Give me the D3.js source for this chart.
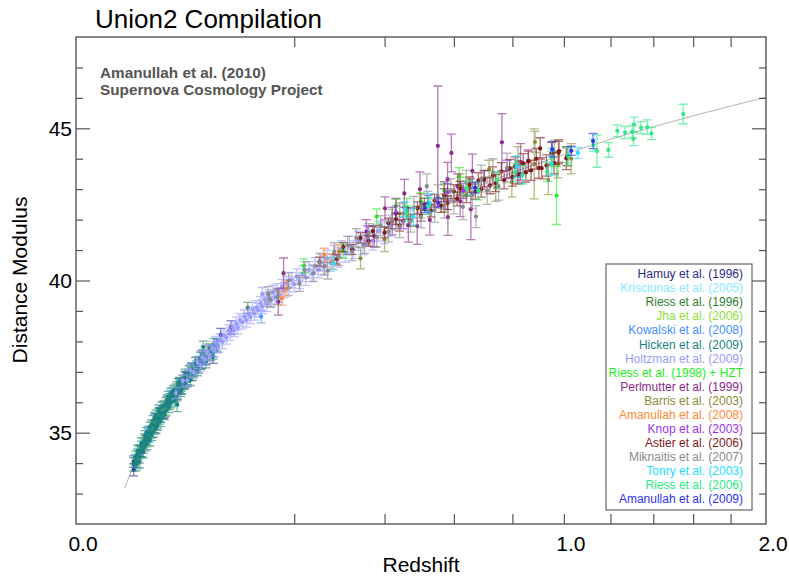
<!DOCTYPE html>
<html>
<head>
<meta charset="utf-8">
<script src="https://cdn.jsdelivr.net/npm/d3@7"></script>
<style>
  html, body { margin: 0; padding: 0; background: #fff; }
  svg { display: block; font-family: "Liberation Sans", Arial, sans-serif; }
</style>
</head>
<body>
<svg id="chart" width="789" height="577"></svg>
<script>
// Union2 Hubble diagram: distance modulus vs redshift, one array per sample: [z, mu, sigma_mu]
const hamuy1996 = [
  [0.014, 33.78, 0.20], [0.014, 34.05, 0.19], [0.018, 34.38, 0.18], [0.020, 34.79, 0.17],
  [0.026, 35.18, 0.18], [0.026, 35.42, 0.19], [0.030, 35.66, 0.17], [0.033, 35.71, 0.20],
  [0.035, 36.02, 0.18], [0.043, 36.28, 0.20], [0.045, 36.61, 0.17], [0.046, 36.48, 0.21],
  [0.050, 36.83, 0.18], [0.050, 36.66, 0.19], [0.052, 36.77, 0.20], [0.056, 37.05, 0.21],
  [0.063, 37.18, 0.22], [0.066, 37.49, 0.20], [0.071, 37.45, 0.21], [0.075, 37.72, 0.20],
  [0.079, 37.50, 0.22], [0.088, 38.22, 0.21], [0.101, 38.46, 0.22]
];
const krisciunas2005 = [
  [0.016, 34.30, 0.18], [0.022, 34.85, 0.17], [0.027, 35.30, 0.16], [0.031, 35.72, 0.16],
  [0.037, 36.10, 0.18], [0.040, 36.15, 0.17]
];
const riess1996 = [
  [0.017, 34.41, 0.20], [0.024, 35.02, 0.19], [0.029, 35.61, 0.18], [0.032, 35.66, 0.21],
  [0.043, 36.48, 0.20], [0.049, 36.62, 0.19], [0.056, 36.92, 0.22], [0.062, 37.28, 0.21],
  [0.066, 37.30, 0.20], [0.075, 37.59, 0.23], [0.124, 39.10, 0.18]
];
const jha2006 = [
  [0.016, 34.17, 0.20], [0.019, 34.66, 0.19], [0.021, 34.72, 0.20], [0.024, 35.18, 0.18],
  [0.027, 35.27, 0.19], [0.028, 35.55, 0.17], [0.033, 35.78, 0.19], [0.036, 35.93, 0.18],
  [0.041, 36.33, 0.20], [0.047, 36.58, 0.21], [0.054, 36.99, 0.19], [0.058, 37.01, 0.22],
  [0.069, 37.62, 0.20], [0.077, 37.72, 0.21]
];
const kowalski2008 = [
  [0.022, 34.95, 0.18], [0.030, 35.53, 0.17], [0.038, 36.20, 0.19], [0.046, 36.55, 0.18],
  [0.057, 37.10, 0.20], [0.068, 37.42, 0.19], [0.079, 37.69, 0.20], [0.083, 37.88, 0.20],
  [0.144, 38.81, 0.20]
];
const hicken2009 = [
  [0.014, 33.96, 0.22], [0.015, 33.95, 0.20], [0.015, 34.22, 0.18], [0.015, 34.10, 0.19],
  [0.016, 34.01, 0.19], [0.016, 34.29, 0.17], [0.016, 34.40, 0.18], [0.017, 34.36, 0.18],
  [0.017, 34.20, 0.20], [0.017, 34.05, 0.20], [0.018, 34.65, 0.17], [0.018, 34.39, 0.18],
  [0.018, 34.55, 0.17], [0.019, 34.68, 0.16], [0.019, 34.36, 0.19], [0.019, 34.50, 0.18],
  [0.020, 34.74, 0.17], [0.020, 34.58, 0.18], [0.020, 34.90, 0.17], [0.021, 35.01, 0.16],
  [0.021, 34.75, 0.17], [0.021, 34.62, 0.18], [0.022, 35.03, 0.18], [0.022, 34.73, 0.16],
  [0.022, 34.85, 0.17], [0.023, 35.04, 0.17], [0.023, 34.76, 0.19], [0.023, 35.18, 0.17],
  [0.024, 35.26, 0.16], [0.024, 35.01, 0.17], [0.024, 34.92, 0.18], [0.025, 35.26, 0.16],
  [0.025, 35.03, 0.18], [0.025, 35.40, 0.16], [0.026, 35.50, 0.17], [0.026, 35.24, 0.16],
  [0.026, 35.12, 0.17], [0.027, 35.46, 0.17], [0.027, 35.16, 0.18], [0.027, 35.58, 0.16],
  [0.028, 35.49, 0.16], [0.028, 35.32, 0.17], [0.028, 35.25, 0.17], [0.029, 35.66, 0.16],
  [0.029, 35.45, 0.18], [0.029, 35.75, 0.16], [0.030, 35.62, 0.16], [0.030, 35.37, 0.17],
  [0.030, 35.50, 0.17], [0.031, 35.84, 0.16], [0.032, 35.64, 0.17], [0.032, 35.88, 0.16],
  [0.033, 35.89, 0.16], [0.033, 35.60, 0.17], [0.034, 35.72, 0.17], [0.034, 35.99, 0.16],
  [0.035, 35.91, 0.16], [0.035, 36.08, 0.16], [0.036, 36.19, 0.17], [0.036, 35.82, 0.16],
  [0.037, 36.12, 0.16], [0.037, 35.95, 0.17], [0.038, 36.01, 0.17], [0.038, 36.30, 0.16],
  [0.039, 36.31, 0.16], [0.040, 36.19, 0.17], [0.040, 36.38, 0.17], [0.041, 36.05, 0.18],
  [0.042, 36.44, 0.16], [0.042, 36.20, 0.17], [0.043, 36.27, 0.17], [0.043, 35.93, 0.24],
  [0.044, 36.60, 0.17], [0.045, 36.48, 0.16], [0.045, 36.65, 0.17], [0.046, 36.36, 0.17],
  [0.047, 36.45, 0.17], [0.048, 36.72, 0.16], [0.049, 36.60, 0.17], [0.050, 36.92, 0.17],
  [0.051, 36.82, 0.17], [0.052, 36.69, 0.18], [0.053, 36.91, 0.17], [0.054, 37.02, 0.18],
  [0.055, 36.73, 0.18], [0.056, 37.11, 0.17], [0.057, 36.90, 0.18], [0.058, 37.02, 0.18],
  [0.060, 37.29, 0.18], [0.061, 37.18, 0.18], [0.062, 37.06, 0.19], [0.064, 37.33, 0.18],
  [0.065, 37.45, 0.19], [0.066, 37.28, 0.19], [0.068, 37.56, 0.18], [0.068, 37.82, 0.19],
  [0.071, 37.33, 0.20], [0.074, 37.68, 0.19], [0.077, 37.59, 0.20], [0.079, 37.62, 0.20],
  [0.080, 37.90, 0.20], [0.084, 37.86, 0.21]
];
const holtzman2009 = [
  [0.042, 36.30, 0.18], [0.048, 36.70, 0.20], [0.052, 36.72, 0.18], [0.055, 37.05, 0.20],
  [0.058, 36.98, 0.19], [0.062, 37.30, 0.20], [0.065, 37.20, 0.18], [0.067, 37.48, 0.20],
  [0.070, 37.41, 0.19], [0.072, 37.66, 0.21], [0.075, 37.55, 0.19], [0.078, 37.80, 0.20],
  [0.080, 37.70, 0.20], [0.082, 37.95, 0.21], [0.085, 37.82, 0.20], [0.087, 38.06, 0.19],
  [0.090, 37.98, 0.22], [0.092, 38.20, 0.20], [0.095, 38.12, 0.21], [0.098, 38.35, 0.20],
  [0.100, 38.25, 0.22], [0.103, 38.47, 0.21], [0.105, 38.36, 0.20], [0.108, 38.58, 0.22],
  [0.110, 38.45, 0.21], [0.113, 38.70, 0.21], [0.116, 38.62, 0.22], [0.119, 38.82, 0.21],
  [0.122, 38.70, 0.23], [0.125, 38.90, 0.22], [0.128, 38.80, 0.22], [0.131, 39.05, 0.23],
  [0.134, 38.92, 0.22], [0.137, 39.12, 0.22], [0.140, 39.02, 0.23], [0.143, 39.25, 0.22],
  [0.146, 39.14, 0.23], [0.146, 39.55, 0.22], [0.150, 39.38, 0.22], [0.153, 39.22, 0.24],
  [0.156, 39.46, 0.23], [0.160, 39.36, 0.23], [0.163, 39.60, 0.24], [0.166, 39.45, 0.23],
  [0.170, 39.66, 0.24], [0.174, 39.52, 0.24], [0.178, 39.80, 0.24], [0.182, 39.68, 0.25],
  [0.186, 39.90, 0.24], [0.190, 39.76, 0.25], [0.195, 40.02, 0.25], [0.200, 39.88, 0.25],
  [0.205, 40.12, 0.26], [0.210, 39.98, 0.25], [0.216, 40.22, 0.26], [0.222, 40.10, 0.26],
  [0.228, 40.35, 0.27], [0.234, 40.22, 0.26], [0.240, 40.48, 0.27], [0.246, 40.36, 0.27],
  [0.252, 40.58, 0.28], [0.258, 40.44, 0.27], [0.265, 40.72, 0.28], [0.272, 40.58, 0.28],
  [0.280, 40.86, 0.29], [0.288, 40.72, 0.28], [0.296, 41.02, 0.29], [0.305, 40.90, 0.30],
  [0.314, 41.15, 0.30], [0.324, 41.02, 0.30], [0.335, 41.30, 0.31], [0.346, 41.16, 0.31],
  [0.358, 41.45, 0.32], [0.370, 41.32, 0.32], [0.385, 41.62, 0.33], [0.400, 41.55, 0.34],
  [0.415, 41.80, 0.35]
];
const riess1998hzt = [
  [0.218, 40.49, 0.22], [0.300, 40.97, 0.23], [0.380, 42.10, 0.25], [0.430, 42.45, 0.22],
  [0.460, 42.40, 0.30], [0.500, 42.60, 0.28], [0.570, 42.95, 0.25], [0.617, 43.41, 0.30],
  [0.620, 43.14, 0.25], [0.650, 43.05, 0.28], [0.970, 42.79, 0.95]
];
const perlmutter1999 = [
  [0.172, 39.30, 0.44], [0.181, 40.24, 0.50], [0.354, 41.60, 0.40], [0.374, 41.45, 0.35],
  [0.401, 42.37, 0.38], [0.420, 41.95, 0.45], [0.430, 42.20, 0.50], [0.453, 42.86, 0.46],
  [0.464, 41.82, 0.56], [0.489, 41.79, 0.60], [0.497, 43.00, 0.57], [0.526, 41.99, 0.50],
  [0.550, 44.42, 1.97], [0.570, 42.80, 0.45], [0.580, 43.33, 0.55], [0.581, 42.08, 0.60],
  [0.592, 44.19, 0.62], [0.612, 43.10, 0.40], [0.620, 42.60, 0.50], [0.655, 42.34, 1.00],
  [0.660, 43.60, 0.55], [0.762, 44.54, 0.94], [0.830, 43.90, 0.60]
];
const barris2003 = [
  [0.340, 40.73, 0.35], [0.400, 41.35, 0.40], [0.440, 42.20, 0.35], [0.500, 42.45, 0.40],
  [0.570, 42.70, 0.45], [0.620, 43.10, 0.40], [0.717, 43.65, 0.30], [0.740, 43.05, 0.45],
  [0.798, 43.24, 0.50], [0.820, 43.90, 0.50], [0.882, 43.83, 1.15], [0.885, 44.55, 0.35],
  [0.937, 43.30, 0.48], [0.960, 44.20, 0.40], [0.976, 43.82, 0.45], [1.030, 44.00, 0.50]
];
const amanullah2008 = [
  [0.178, 39.41, 0.22], [0.187, 39.74, 0.25], [0.259, 40.84, 0.22], [0.275, 40.62, 0.25],
  [0.290, 40.95, 0.22]
];
const knop2003 = [
  [0.358, 41.55, 0.25], [0.430, 42.23, 0.22], [0.450, 41.95, 0.25], [0.520, 42.55, 0.25],
  [0.580, 42.90, 0.28], [0.630, 42.95, 0.25], [0.700, 43.30, 0.30], [0.781, 43.65, 0.30],
  [0.828, 43.50, 0.30], [0.859, 43.94, 0.35]
];
const astier2006 = [
  [0.249, 40.62, 0.15], [0.285, 40.70, 0.16], [0.300, 41.10, 0.15], [0.320, 41.02, 0.16],
  [0.340, 41.40, 0.17], [0.360, 41.30, 0.17], [0.370, 41.62, 0.16], [0.400, 41.58, 0.18],
  [0.410, 41.88, 0.17], [0.430, 42.02, 0.18], [0.440, 41.80, 0.18], [0.460, 42.20, 0.19],
  [0.470, 41.98, 0.19], [0.490, 42.38, 0.20], [0.500, 42.15, 0.20], [0.510, 42.50, 0.20],
  [0.530, 42.30, 0.21], [0.540, 42.62, 0.21], [0.560, 42.46, 0.22], [0.570, 42.80, 0.22],
  [0.580, 42.55, 0.22], [0.600, 42.92, 0.23], [0.610, 42.68, 0.23], [0.620, 43.02, 0.24],
  [0.640, 42.80, 0.24], [0.650, 43.15, 0.25], [0.670, 42.92, 0.25], [0.680, 43.28, 0.26],
  [0.690, 43.00, 0.26], [0.700, 43.35, 0.27], [0.720, 43.12, 0.27], [0.730, 43.45, 0.28],
  [0.740, 43.20, 0.28], [0.760, 43.58, 0.29], [0.770, 43.30, 0.29], [0.790, 43.68, 0.30],
  [0.800, 43.40, 0.30], [0.810, 43.75, 0.31], [0.820, 43.48, 0.31], [0.840, 43.85, 0.32],
  [0.850, 43.55, 0.32], [0.860, 43.92, 0.33], [0.870, 43.62, 0.33], [0.890, 44.00, 0.34],
  [0.900, 43.70, 0.34], [0.905, 44.34, 0.35], [0.911, 43.69, 0.35], [0.930, 43.78, 0.35],
  [0.950, 44.18, 0.36], [0.960, 43.86, 0.36], [0.978, 44.20, 0.37], [0.980, 44.25, 0.37],
  [1.010, 44.02, 0.38], [1.013, 44.07, 0.30]
];
const miknaitis2007 = [
  [0.155, 39.55, 0.25], [0.158, 39.38, 0.25], [0.170, 39.45, 0.25], [0.190, 40.00, 0.25],
  [0.210, 39.90, 0.26], [0.220, 40.35, 0.26], [0.237, 40.24, 0.27], [0.250, 40.62, 0.28],
  [0.260, 40.48, 0.28], [0.266, 40.32, 0.27], [0.280, 40.95, 0.29], [0.290, 40.78, 0.29],
  [0.310, 41.15, 0.30], [0.320, 40.95, 0.30], [0.330, 41.40, 0.30], [0.350, 41.20, 0.31],
  [0.360, 41.55, 0.32], [0.380, 41.42, 0.32], [0.390, 41.80, 0.33], [0.410, 41.60, 0.33],
  [0.420, 42.00, 0.34], [0.440, 41.75, 0.34], [0.450, 42.20, 0.35], [0.470, 41.95, 0.36],
  [0.480, 42.40, 0.36], [0.500, 42.10, 0.37], [0.517, 43.10, 0.40], [0.520, 42.55, 0.38],
  [0.540, 42.30, 0.38], [0.550, 42.75, 0.39], [0.570, 42.45, 0.40], [0.590, 42.95, 0.40],
  [0.600, 42.60, 0.41], [0.629, 42.42, 0.42], [0.640, 43.20, 0.42], [0.660, 42.80, 0.43],
  [0.672, 42.10, 0.36], [0.690, 43.35, 0.44], [0.710, 42.95, 0.45], [0.730, 43.55, 0.45],
  [0.750, 43.10, 0.46], [0.780, 43.70, 0.48]
];
const tonry2003 = [
  [0.278, 40.56, 0.20], [0.455, 42.34, 0.25], [0.478, 42.10, 0.28], [0.526, 42.55, 0.30],
  [0.816, 43.74, 0.35], [0.951, 43.85, 0.40], [1.058, 44.19, 0.18]
];
const riess2006 = [
  [0.460, 42.20, 0.25], [0.520, 42.45, 0.28], [0.641, 43.03, 0.25], [0.680, 42.95, 0.30],
  [0.744, 43.30, 0.28], [0.810, 43.55, 0.30], [0.838, 43.47, 0.30], [0.933, 43.57, 0.32],
  [0.950, 44.05, 0.30], [1.017, 44.12, 0.25], [1.018, 44.09, 0.30], [1.125, 44.45, 0.20],
  [1.140, 44.25, 0.53], [1.191, 44.29, 0.24], [1.231, 44.92, 0.19], [1.266, 44.86, 0.20],
  [1.300, 44.89, 0.20], [1.305, 44.65, 0.22], [1.308, 45.13, 0.24], [1.341, 45.02, 0.20],
  [1.371, 45.04, 0.24], [1.391, 44.83, 0.20], [1.549, 45.47, 0.32]
];
const amanullah2009 = [
  [0.511, 42.38, 0.15], [0.551, 42.56, 0.15], [0.669, 43.05, 0.18], [0.953, 44.31, 0.25],
  [1.030, 44.26, 0.15], [1.123, 44.58, 0.25]
];

// Best-fit flat LambdaCDM distance modulus
const modelZ  = [0.01, 0.012, 0.015, 0.018, 0.02, 0.025, 0.03, 0.04, 0.05, 0.06, 0.07, 0.08, 0.09, 0.1,
                 0.12, 0.14, 0.16, 0.18, 0.2, 0.25, 0.3, 0.35, 0.4, 0.45, 0.5, 0.55, 0.6, 0.7, 0.8, 0.9,
                 1.0, 1.2, 1.4, 1.6, 1.8, 2.0];
const modelMu = [33.18, 33.58, 34.07, 34.47, 34.70, 35.19, 35.60, 36.24, 36.74, 37.15, 37.50, 37.80, 38.07, 38.33,
                 38.74, 39.11, 39.43, 39.71, 39.97, 40.51, 40.97, 41.36, 41.70, 42.01, 42.28, 42.54, 42.77, 43.18, 43.54, 43.85,
                 44.14, 44.64, 45.05, 45.41, 45.73, 46.02];

const sampleLabels = [
  "Hamuy et al. (1996)", "Krisciunas et al. (2005)", "Riess et al. (1996)", "Jha et al. (2006)",
  "Kowalski et al. (2008)", "Hicken et al. (2009)", "Holtzman et al. (2009)", "Riess et al. (1998) + HZT",
  "Perlmutter et al. (1999)", "Barris et al. (2003)", "Amanullah et al. (2008)", "Knop et al. (2003)",
  "Astier et al. (2006)", "Miknaitis et al. (2007)", "Tonry et al. (2003)", "Riess et al. (2006)",
  "Amanullah et al. (2009)"
];
const sampleData = [
  hamuy1996, krisciunas2005, riess1996, jha2006, kowalski2008, hicken2009, holtzman2009, riess1998hzt,
  perlmutter1999, barris2003, amanullah2008, knop2003, astier2006, miknaitis2007, tonry2003, riess2006,
  amanullah2009
];
const sampleColors = [
  "#2b2b8a", "#88e8ff", "#2f7f2f", "#8fe03a", "#3f8fff", "#1c8480", "#9a9cff", "#22ee22",
  "#8a2a8a", "#8c8a3a", "#ff8833", "#9933ee", "#801818", "#8a8a8a", "#22ddff", "#2eea86",
  "#3030f0"
];

const xMinorTicks = [0.2, 0.4, 0.6, 0.8, 1.0, 1.2, 1.4, 1.6, 1.8];
const xLabelTicks = [0.0, 1.0, 2.0];
const yMinorTicks = [33, 34, 36, 37, 38, 39, 41, 42, 43, 44, 46, 47];
const yMajorTicks = [35, 40, 45];

const titleText = "Union2 Compilation";
const noteLines = ["Amanullah et al. (2010)", "Supernova Cosmology Project"];

// ---- layout ----
const svg = d3.select("#chart");
const plotLeft = 76, plotRight = 766, plotTop = 37, plotBottom = 524;
const frameColor = "#555";
const labelFont = 21;

const x = d3.scaleSqrt().domain([0, 2]).range([plotLeft, plotRight]);
const y = d3.scaleLinear().domain([32, 48]).range([plotBottom, plotTop]);

// clip for data
svg.append("defs").append("clipPath").attr("id", "plotClip")
  .append("rect").attr("x", plotLeft).attr("y", plotTop)
  .attr("width", plotRight - plotLeft).attr("height", plotBottom - plotTop);

// model curve
const model = modelZ.map((z, i) => [z, modelMu[i]]);
svg.append("path")
  .datum(model)
  .attr("fill", "none")
  .attr("stroke", "#b4b4b4")
  .attr("stroke-width", 1)
  .attr("d", d3.line().x(d => x(d[0])).y(d => y(d[1])).curve(d3.curveMonotoneX));

// data with error bars
const plot = svg.append("g").attr("clip-path", "url(#plotClip)");
const cap = 4.5;
sampleData.forEach((rows, i) => {
  const g = plot.append("g");
  const col = sampleColors[i];
  const bars = g.append("g").attr("stroke", col).attr("stroke-width", 1.3).attr("opacity", 0.62);
  bars.selectAll("path").data(rows).join("path")
    .attr("fill", "none")
    .attr("d", d => {
      const cx = x(d[0]), y0 = y(d[1] - d[2]), y1 = y(d[1] + d[2]);
      return `M${cx},${y0}V${y1}M${cx - cap},${y0}H${cx + cap}M${cx - cap},${y1}H${cx + cap}`;
    });
  g.append("g").selectAll("circle").data(rows).join("circle")
    .attr("cx", d => x(d[0]))
    .attr("cy", d => y(d[1]))
    .attr("r", 2.1)
    .attr("fill", col);
});

// axes: ticks pointing inward
const tickStyle = sel => {
  sel.select(".domain").remove();
  sel.selectAll(".tick line").attr("stroke", frameColor).attr("stroke-width", 1.2);
};
svg.append("g").attr("transform", `translate(0,${plotBottom})`)
  .call(d3.axisBottom(x).tickValues(xMinorTicks).tickSize(-10).tickFormat(""))
  .call(tickStyle);
svg.append("g").attr("transform", `translate(0,${plotTop})`)
  .call(d3.axisTop(x).tickValues(xMinorTicks).tickSize(-10).tickFormat(""))
  .call(tickStyle);
svg.append("g").attr("transform", `translate(0,${plotBottom})`)
  .call(d3.axisBottom(x).tickValues(xLabelTicks).tickSize(0).tickPadding(12).tickFormat(d3.format(".1f")))
  .call(sel => {
    sel.select(".domain").remove();
    sel.selectAll("text").attr("fill", "#000").attr("font-size", labelFont)
      .attr("font-family", "Liberation Sans, Arial, sans-serif").attr("dx", 6.5);
  });

svg.append("g").attr("transform", `translate(${plotLeft},0)`)
  .call(d3.axisLeft(y).tickValues(yMinorTicks).tickSize(-7).tickFormat(""))
  .call(tickStyle);
svg.append("g").attr("transform", `translate(${plotLeft},0)`)
  .call(d3.axisLeft(y).tickValues(yMajorTicks).tickSize(-14).tickPadding(5).tickFormat(d3.format("d")))
  .call(tickStyle)
  .call(sel => sel.selectAll("text").attr("fill", "#000").attr("font-size", labelFont)
    .attr("font-family", "Liberation Sans, Arial, sans-serif").attr("x", -4));
svg.append("g").attr("transform", `translate(${plotRight},0)`)
  .call(d3.axisRight(y).tickValues(yMinorTicks).tickSize(-7).tickFormat(""))
  .call(tickStyle);
svg.append("g").attr("transform", `translate(${plotRight},0)`)
  .call(d3.axisRight(y).tickValues(yMajorTicks).tickSize(-14).tickFormat(""))
  .call(tickStyle);

// frame
svg.append("rect")
  .attr("x", plotLeft).attr("y", plotTop)
  .attr("width", plotRight - plotLeft).attr("height", plotBottom - plotTop)
  .attr("fill", "none").attr("stroke", frameColor).attr("stroke-width", 1.4);

// axis titles
svg.append("text").attr("x", 421).attr("y", 572).attr("text-anchor", "middle")
  .attr("font-size", labelFont).text("Redshift");
svg.append("text").attr("transform", "translate(27,280) rotate(-90)").attr("text-anchor", "middle")
  .attr("font-size", labelFont).text("Distance Modulus");

// title and note
svg.append("text").attr("x", 95).attr("y", 28).attr("font-size", 26).text(titleText);
svg.append("g").selectAll("text").data(noteLines).join("text")
  .attr("x", 100).attr("y", (d, i) => 78 + i * 17)
  .attr("font-size", 15.3).attr("font-weight", "bold").attr("fill", "#555")
  .text(d => d);

// legend
const lg = svg.append("g");
lg.append("rect").attr("x", 606).attr("y", 264).attr("width", 146).attr("height", 246)
  .attr("fill", "#fff").attr("stroke", "#666").attr("stroke-width", 1.2);
lg.selectAll("text").data(sampleLabels).join("text")
  .attr("x", 743).attr("y", (d, i) => 278.3 + i * 14.04)
  .attr("text-anchor", "end").attr("font-size", 12)
  .attr("fill", (d, i) => sampleColors[i])
  .text(d => d);
</script>
</body>
</html>
